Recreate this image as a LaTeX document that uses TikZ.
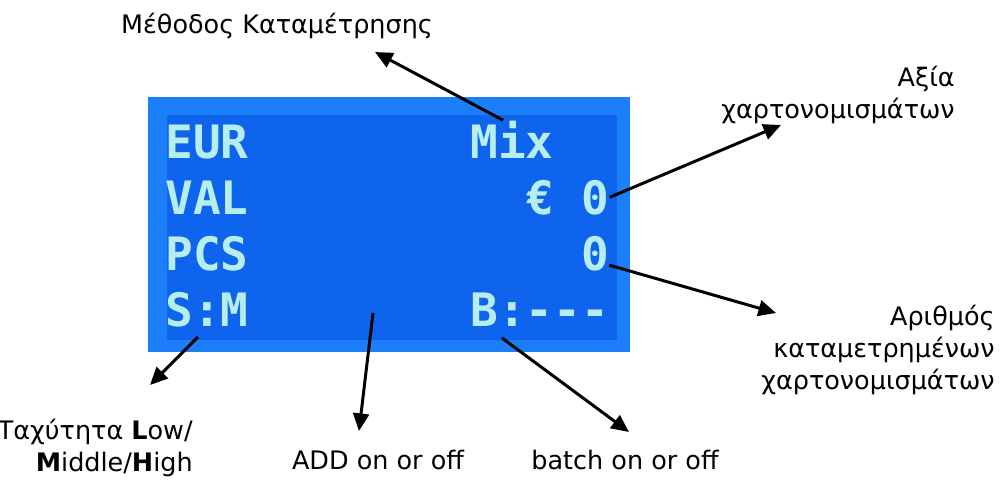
\documentclass[tikz,border=0pt]{standalone}
\usepackage{fontspec}
\setmainfont{DejaVu Sans}
\newfontfamily\lcdfont{DejaVu Sans Mono}
\usetikzlibrary{arrows.meta}

\definecolor{lcdblue}{RGB}{28,126,248}
\definecolor{lcdinner}{RGB}{14,100,236}
\definecolor{lcdtext}{RGB}{182,238,240}

\tikzset{
  lcd/.style={anchor=base west, inner sep=0pt, text=lcdtext, font=\lcdfont\bfseries\fontsize{26.2}{30}\selectfont},
  note/.style={font=\fontsize{14.5}{18}\selectfont, inner sep=0pt},
  pointer/.style={line width=1.7pt, -{Triangle[length=10pt,width=9pt]}},
}

\begin{document}
\begin{tikzpicture}[x=0.02cm, y=-0.02cm]
        \useasboundingbox (0,0) rectangle (1001,484);
        % display panel
        \fill[lcdblue] (148,97) rectangle (630,352);
        \fill[lcdinner] (167,115) rectangle (617,340);
        % display rows
        \node[lcd] (eur) at (165,158) {EUR};
        \node[lcd] (mix) at (470,158) {Mix};
        \node[lcd] (val) at (165,214) {VAL};
        \node[lcd] (valamt) at (526,214) {€ 0};
        \node[lcd] (pcs) at (165,270) {PCS};
        \node[lcd] (pcsamt) at (581,270) {0};
        \node[lcd] (sm) at (165,326) {S:M};
        \node[lcd] (batch) at (470,326) {B:---};
        % labels
        \node[note] (method) at (277,26) {Μέθοδος Καταμέτρησης};
        \node[note, anchor=east, align=right] (value) at (955,95) {Αξία\\χαρτονομισμάτων};
        \node[note, anchor=east, align=right] (count) at (995,350) {Αριθμός\\καταμετρημένων\\χαρτονομισμάτων};
        \node[note, anchor=east, align=right] (speed) at (193,448) {Ταχύτητα \textbf{L}ow/\\\textbf{M}iddle/\textbf{H}igh};
        \node[note] (add) at (378,460) {ADD on or off};
        \node[note] (batchon) at (625,460) {batch on or off};
        % arrow ends
        \coordinate (methodend) at (375,52);
        \coordinate (valueend) at (781,125);
        \coordinate (countend) at (776,313);
        \coordinate (smpoint) at (198,337);
        \coordinate (speedend) at (150,385);
        \coordinate (addpoint) at (373,313);
        \coordinate (addend) at (359,431);
        \coordinate (batchpoint) at (502,338);
        \coordinate (batchend) at (629,432);
        % arrows
        \draw[pointer] ([xshift=-5pt]mix.north) -- (methodend);
        \draw[pointer] (valamt.east) -- (valueend);
        \draw[pointer] (pcsamt.-40) -- (countend);
        \draw[pointer] (smpoint) -- (speedend);
        \draw[pointer] (addpoint) -- (addend);
        \draw[pointer] (batchpoint) -- (batchend);
    \end{tikzpicture}
\end{document}
